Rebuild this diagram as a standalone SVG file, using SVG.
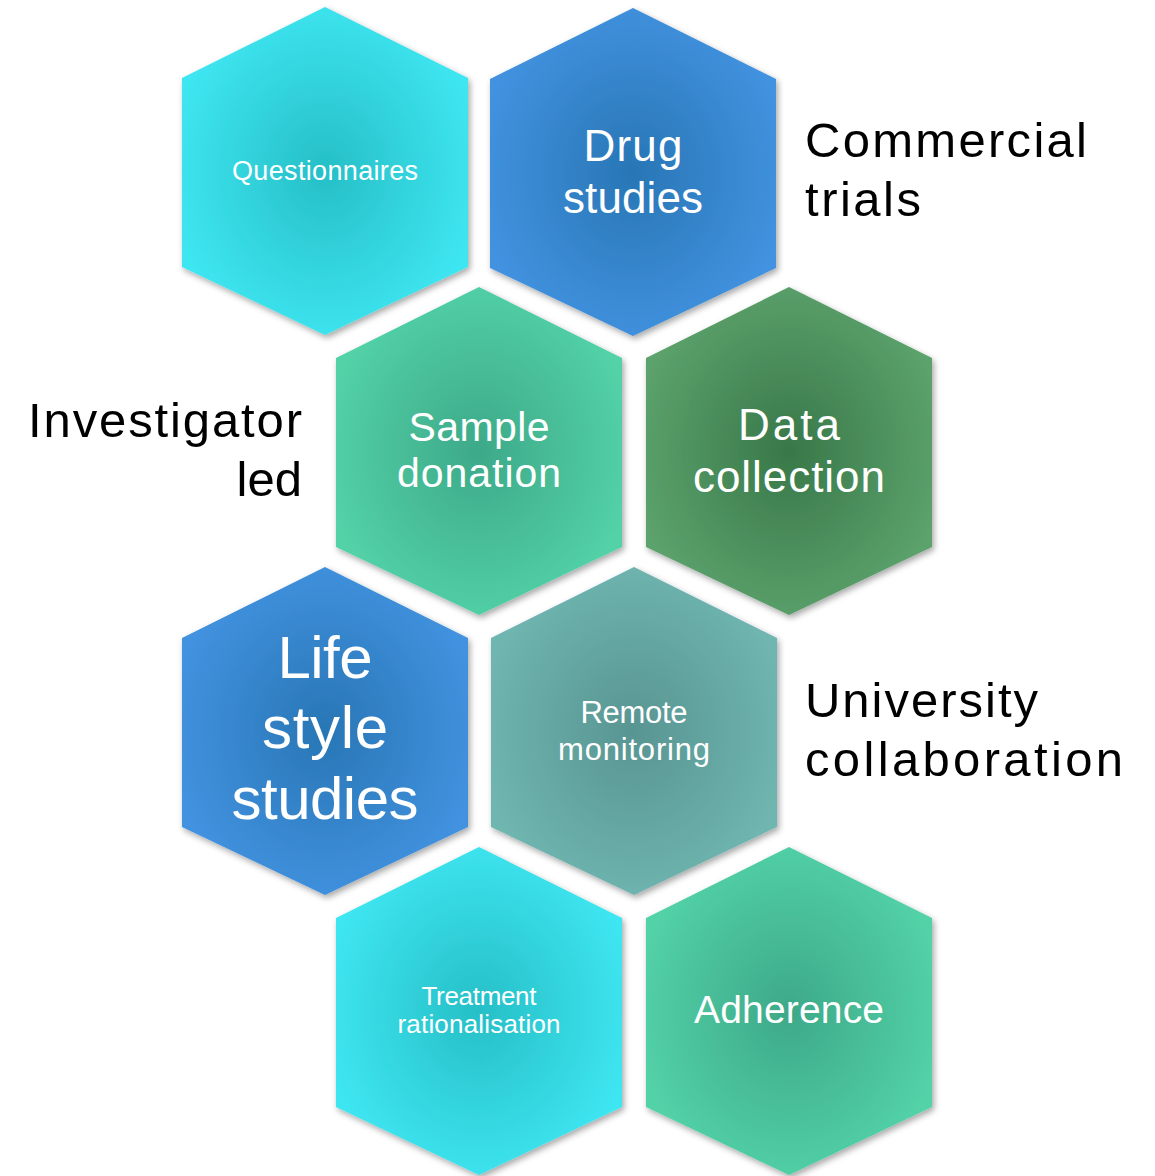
<svg xmlns="http://www.w3.org/2000/svg" width="1155" height="1176" viewBox="0 0 1155 1176">
<style>
.hl{fill:#fff;font-family:"Liberation Sans",Arial,sans-serif;text-anchor:middle}
.lb{fill:#000;font-family:"Liberation Sans",Arial,sans-serif;font-size:49px}
.hex{filter:url(#sh)}
</style>
<defs>
<filter id="sh" x="-10%" y="-10%" width="125%" height="125%">
<feDropShadow dx="2" dy="3" stdDeviation="3" flood-color="#000" flood-opacity="0.35"/>
</filter>
<radialGradient id="gCyan" cx="50%" cy="50%" r="55%"><stop offset="0" stop-color="#26BFC7"/><stop offset="1" stop-color="#3EE6F1"/></radialGradient>
<radialGradient id="gBlue" cx="50%" cy="50%" r="55%"><stop offset="0" stop-color="#2876B5"/><stop offset="1" stop-color="#4292E0"/></radialGradient>
<radialGradient id="gMint" cx="50%" cy="50%" r="55%"><stop offset="0" stop-color="#3DA988"/><stop offset="1" stop-color="#53D2A8"/></radialGradient>
<radialGradient id="gGreen" cx="50%" cy="50%" r="55%"><stop offset="0" stop-color="#387849"/><stop offset="1" stop-color="#5CA26C"/></radialGradient>
<radialGradient id="gTeal" cx="50%" cy="50%" r="55%"><stop offset="0" stop-color="#589592"/><stop offset="1" stop-color="#70B6B0"/></radialGradient>
</defs>

<g id="connectors"/>

<g id="node-questionnaires">
<polygon class="hex" fill="url(#gCyan)" points="325,7 468,78 468,267 325,335 182,267 182,78"/>
<text class="hl" x="325" y="180" font-size="27" textLength="186">Questionnaires</text>
</g>

<g id="node-drug-studies">
<polygon class="hex" fill="url(#gBlue)" points="633,8 776,79 776,268 633,336 490,268 490,79"/>
<text class="hl" x="633" y="161" font-size="44" textLength="99">Drug</text>
<text class="hl" x="633" y="213" font-size="44" textLength="140">studies</text>
</g>

<g id="node-sample-donation">
<polygon class="hex" fill="url(#gMint)" points="479,287 622,358 622,547 479,615 336,547 336,358"/>
<text class="hl" x="479" y="441" font-size="41" textLength="141">Sample</text>
<text class="hl" x="479" y="487" font-size="41" textLength="164">donation</text>
</g>

<g id="node-data-collection">
<polygon class="hex" fill="url(#gGreen)" points="789,287 932,358 932,547 789,615 646,547 646,358"/>
<text class="hl" x="789" y="440" font-size="44" textLength="102">Data</text>
<text class="hl" x="789" y="492" font-size="44" textLength="192">collection</text>
</g>

<g id="node-life-style-studies">
<polygon class="hex" fill="url(#gBlue)" points="325,567 468,638 468,827 325,895 182,827 182,638"/>
<text class="hl" x="325" y="678" font-size="60" textLength="95">Life</text>
<text class="hl" x="325" y="748" font-size="60" textLength="126">style</text>
<text class="hl" x="325" y="819" font-size="60" textLength="187">studies</text>
</g>

<g id="node-remote-monitoring">
<polygon class="hex" fill="url(#gTeal)" points="634,567 777,638 777,827 634,895 491,827 491,638"/>
<text class="hl" x="634" y="723" font-size="31" textLength="107">Remote</text>
<text class="hl" x="634" y="760" font-size="31" textLength="152">monitoring</text>
</g>

<g id="node-treatment-rationalisation">
<polygon class="hex" fill="url(#gCyan)" points="479,847 622,918 622,1107 479,1175 336,1107 336,918"/>
<text class="hl" x="479" y="1005" font-size="26" textLength="115">Treatment</text>
<text class="hl" x="479" y="1033" font-size="26" textLength="163">rationalisation</text>
</g>

<g id="node-adherence">
<polygon class="hex" fill="url(#gMint)" points="789,847 932,918 932,1107 789,1175 646,1107 646,918"/>
<text class="hl" x="789" y="1023" font-size="39" textLength="190">Adherence</text>
</g>

<g id="label-commercial">
<text class="lb" x="805" y="157" textLength="282">Commercial</text>
<text class="lb" x="805" y="216" textLength="116">trials</text>
</g>

<g id="label-investigator">
<text class="lb" x="302" y="437" text-anchor="end" textLength="274">Investigator</text>
<text class="lb" x="302" y="496" text-anchor="end">led</text>
</g>

<g id="label-university">
<text class="lb" x="805" y="717" textLength="233">University</text>
<text class="lb" x="805" y="776" textLength="318">collaboration</text>
</g>
</svg>
